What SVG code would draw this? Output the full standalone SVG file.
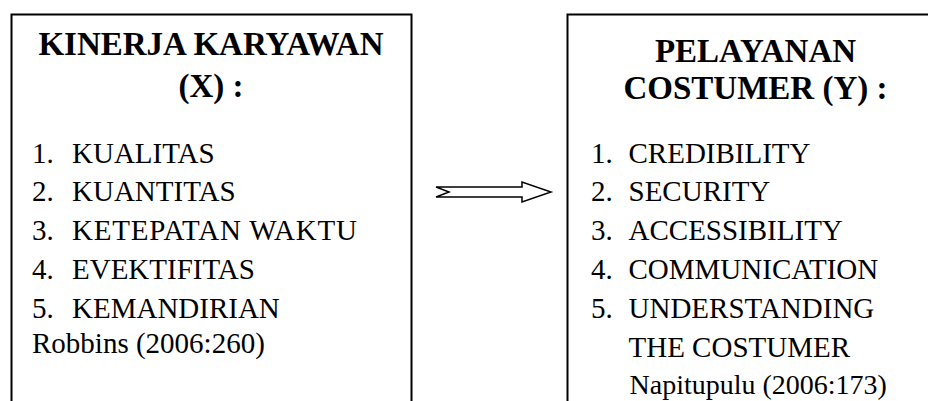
<svg xmlns="http://www.w3.org/2000/svg" width="928" height="401" viewBox="0 0 928 401">
<style>
.box{fill:#fff;stroke:#000;stroke-width:2}
.t{font-family:"Liberation Serif","Times New Roman",serif;fill:#000}
.h{font-size:33px;font-weight:bold;text-anchor:middle}
.l{font-size:29px}
.arrow{fill:#fff;stroke:#000;stroke-width:1.5;stroke-linejoin:miter}
</style>
<rect width="928" height="401" fill="#fff"/>
<g id="node-kinerja">
<path class="box" d="M11.5,410 V14.5 H411.5 V410"/>
<text class="t h" x="211" y="55">KINERJA KARYAWAN</text>
<text class="t h" x="211" y="97">(X) :</text>
<text class="t l" x="32" y="163">1.</text><text class="t l" x="72" y="163">KUALITAS</text>
<text class="t l" x="32" y="201">2.</text><text class="t l" x="72" y="201">KUANTITAS</text>
<text class="t l" x="32" y="240">3.</text><text class="t l" x="72" y="240" textLength="285" lengthAdjust="spacing">KETEPATAN WAKTU</text>
<text class="t l" x="32" y="279">4.</text><text class="t l" x="72" y="279">EVEKTIFITAS</text>
<text class="t l" x="32" y="318">5.</text><text class="t l" x="72" y="318">KEMANDIRIAN</text>
<text class="t l" x="32" y="353">Robbins (2006:260)</text>
</g>
<g id="node-pelayanan">
<path class="box" d="M567.5,410 V14.5 H940"/>
<text class="t h" x="755.5" y="62">PELAYANAN</text>
<text class="t h" x="755.5" y="99">COSTUMER (Y) :</text>
<text class="t l" x="591" y="163">1.</text><text class="t l" x="628.5" y="163">CREDIBILITY</text>
<text class="t l" x="591" y="201">2.</text><text class="t l" x="628.5" y="201">SECURITY</text>
<text class="t l" x="591" y="240">3.</text><text class="t l" x="628.5" y="240">ACCESSIBILITY</text>
<text class="t l" x="591" y="279">4.</text><text class="t l" x="628.5" y="279">COMMUNICATION</text>
<text class="t l" x="591" y="318">5.</text><text class="t l" x="628.5" y="318">UNDERSTANDING</text>
<text class="t l" x="628.5" y="357">THE COSTUMER</text>
<text class="t l" x="629.5" y="394" style="font-size:28px">Napitupulu (2006:173)</text>
</g>
<g id="connectors">
<polygon class="arrow" points="436,187 522,187 522,182 551,192 522,202 522,197 436,197 449,192"/>
</g>
</svg>
